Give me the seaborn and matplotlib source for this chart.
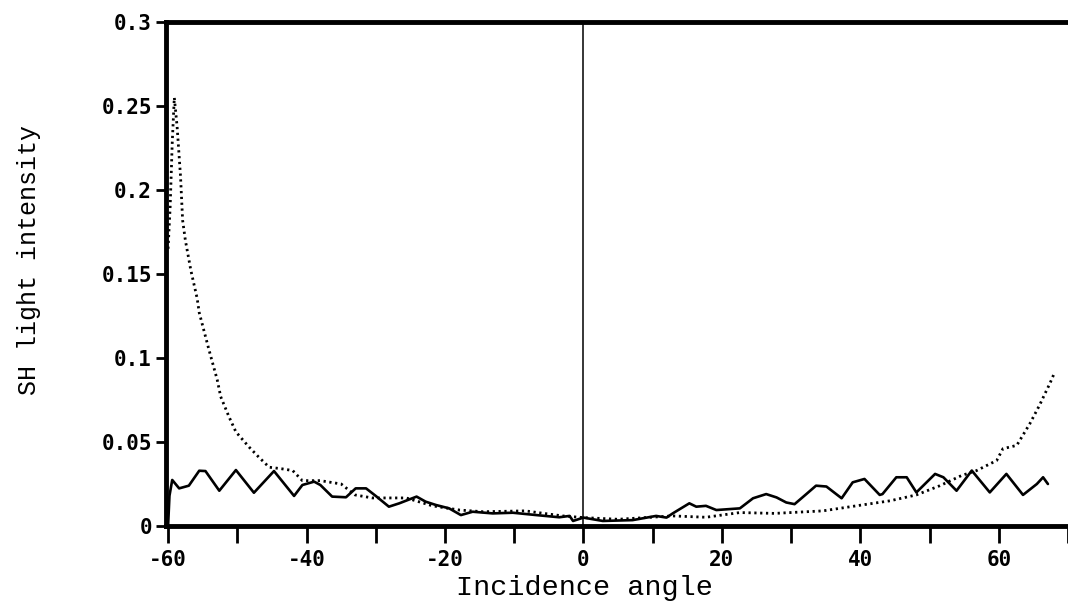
import matplotlib
matplotlib.use("Agg")
import matplotlib.pyplot as plt
import seaborn as sns
from matplotlib.ticker import FixedLocator, MultipleLocator

# ---- data ----
solid_x = [-60.0, -59.8, -59.4, -58.4, -57.0, -55.5, -54.6, -52.6, -50.2, -47.6,
           -44.7, -41.8, -40.6, -38.9, -38.0, -36.3, -34.3, -32.9, -31.4, -30.0,
           -28.1, -26.6, -24.1, -22.8, -21.3, -19.4, -17.7, -16.0, -13.1, -10.2,
           -6.8, -3.5, -2.0, -1.5, 0.0, 2.8, 7.1, 10.5, 12.0, 12.9,
           15.3, 16.3, 17.7, 19.2, 22.6, 24.5, 26.4, 27.9, 29.3, 30.5,
           32.2, 33.6, 35.1, 37.3, 38.9, 40.6, 42.8, 43.2, 45.2, 46.7,
           48.1, 50.8, 52.0, 53.9, 56.1, 58.7, 61.1, 63.5, 65.5, 66.4, 67.1]
solid_y = [0.0, 0.018, 0.0274, 0.0224, 0.024, 0.0329, 0.0327, 0.021, 0.0333, 0.0198,
           0.0327, 0.0179, 0.0244, 0.0264, 0.0244, 0.0175, 0.0171, 0.0224, 0.0224, 0.0179,
           0.0115, 0.0135, 0.0175, 0.0145, 0.0125, 0.0105, 0.0065, 0.0085, 0.0075, 0.0079,
           0.0065, 0.0052, 0.006, 0.003, 0.005, 0.003, 0.0035, 0.006, 0.005, 0.0075,
           0.0135, 0.0115, 0.012, 0.0095, 0.0105, 0.0165, 0.019, 0.017, 0.014, 0.013,
           0.019, 0.024, 0.0235, 0.0165, 0.026, 0.028, 0.0185, 0.019, 0.029, 0.029,
           0.020, 0.031, 0.029, 0.021, 0.033, 0.020, 0.031, 0.0185, 0.025, 0.029, 0.025]

dot_x = [-60.0, -59.7, -59.4, -59.1, -58.7, -58.2, -57.9, -57.5, -56.7, -55.8,
         -55.5, -54.1, -52.9, -52.4, -51.2, -50.2, -48.3, -46.9, -45.4, -43.5,
         -42.0, -40.6, -38.0, -35.0, -33.0, -30.5, -25.6, -21.8, -17.9, -14.5,
         -8.4, -3.0, 0.0, 5.0, 12.9, 17.7, 22.6, 27.6, 34.6, 39.4,
         44.3, 48.1, 51.5, 54.6, 56.8, 59.7, 60.6, 62.6, 64.5, 65.9,
         66.7, 67.4, 68.1]
dot_y = [0.165, 0.19, 0.228, 0.255, 0.238, 0.208, 0.182, 0.170, 0.152, 0.1355,
         0.127, 0.105, 0.087, 0.077, 0.065, 0.056, 0.047, 0.041, 0.035, 0.034,
         0.033, 0.027, 0.027, 0.025, 0.0185, 0.0167, 0.0167, 0.012, 0.0095, 0.0085,
         0.009, 0.006, 0.005, 0.004, 0.006, 0.0052, 0.008, 0.0075, 0.009, 0.012,
         0.015, 0.0185, 0.024, 0.030, 0.033, 0.039, 0.046, 0.048, 0.061, 0.072,
         0.079, 0.085, 0.0917]

x_ticks = [-60, -40, -20, 0, 20, 40, 60]
x_ticklabels = ["-60", "-40", "-20", "0", "20", "40", "60"]
y_ticks = [0, 0.05, 0.1, 0.15, 0.2, 0.25, 0.3]
y_ticklabels = ["0", "0.05", "0.1", "0.15", "0.2", "0.25", "0.3"]
x_label = "Incidence angle"
y_label = "SH light intensity"

# ---- drawing ----
sns.set_style("ticks")
plt.rcParams["axes.unicode_minus"] = False

fig = plt.figure(figsize=(10.68, 6.06), dpi=100)
ax = fig.add_axes([166 / 1068, 1 - 526 / 606, 1 - 166 / 1068, (526 - 22) / 606])

sns.lineplot(x=solid_x, y=solid_y, ax=ax, color="black", linewidth=1.9,
             sort=False, estimator=None)
sns.lineplot(x=dot_x, y=dot_y, ax=ax, color="black", linewidth=2.0,
             linestyle=(0, (0.8, 1.3)), sort=False, estimator=None)

ax.axvline(0, color="black", linewidth=1.1, zorder=1)

ax.set_xlim(-60.3, 70)
ax.set_ylim(0, 0.3)

ax.xaxis.set_major_locator(FixedLocator(x_ticks))
ax.set_xticklabels(x_ticklabels)
ax.xaxis.set_minor_locator(MultipleLocator(10))
ax.yaxis.set_major_locator(FixedLocator(y_ticks))
ax.set_yticklabels(y_ticklabels)

for lab in ax.get_xticklabels() + ax.get_yticklabels():
    lab.set_fontfamily("DejaVu Sans Mono")
    lab.set_fontsize(15)
    lab.set_fontweight("bold")
    lab.set_color("black")

ax.tick_params(axis="x", which="both", direction="out", length=12, width=2,
               color="black", pad=5)
ax.tick_params(axis="y", which="both", direction="out", length=7, width=2,
               color="black", pad=3)

for side in ["left", "bottom", "top"]:
    ax.spines[side].set_linewidth(3.5)
    ax.spines[side].set_color("black")
ax.spines["right"].set_visible(False)

ax.set_xlabel(x_label, fontfamily="Liberation Mono", fontsize=20.5, color="black")
ax.set_ylabel(y_label, fontfamily="Liberation Mono", fontsize=18, color="black")
ax.xaxis.set_label_coords((584 - 166) / (1068 - 166), -(575 - 526) / 504, transform=ax.transAxes)
ax.yaxis.set_label_coords(-(166 - 41) / 902, (526 - 260) / 504, transform=ax.transAxes)

fig.savefig("out.png", dpi=100)
